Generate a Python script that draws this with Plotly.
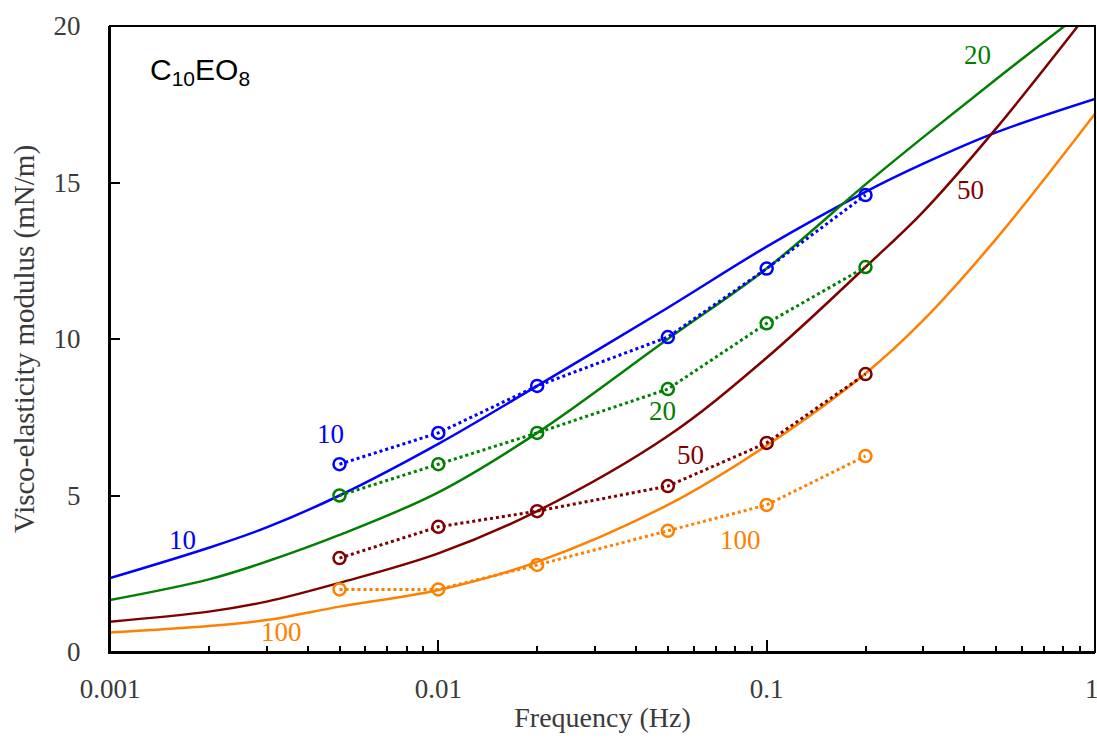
import math
import plotly.graph_objects as go

# Measured data (open circles, dotted lines)
freq_meas = [0.005, 0.01, 0.02, 0.05, 0.1, 0.2]
meas_10 = [6.0, 7.0, 8.5, 10.06, 12.25, 14.6]
meas_20 = [5.0, 6.0, 7.0, 8.4, 10.5, 12.3]
meas_50 = [3.0, 4.0, 4.5, 5.3, 6.68, 8.88]
meas_100 = [2.0, 2.0, 2.78, 3.87, 4.7, 6.26]

# Model curves (solid lines)
freq_model = [0.001, 0.002, 0.003, 0.005, 0.01, 0.02, 0.05, 0.1, 0.2, 0.3, 0.5, 1.0]
model_10 = [2.36, 3.33, 3.98, 5.0, 6.65, 8.5, 11.0, 12.95, 14.7, 15.6, 16.6, 17.67]
model_20 = [1.66, 2.32, 2.89, 3.74, 5.1, 7.0, 10.0, 12.25, 14.94, 16.45, 18.3, 20.75]
model_50 = [0.97, 1.29, 1.61, 2.21, 3.15, 4.5, 6.9, 9.4, 12.3, 14.07, 16.73, 20.7]
model_100 = [0.62, 0.83, 1.02, 1.45, 1.98, 2.88, 4.7, 6.6, 8.9, 10.6, 13.2, 17.2]

x_tick_vals = [0.001, 0.01, 0.1, 1]
x_tick_text = ["0.001", "0.01", "0.1", "1\u00a0"]

series_names = ["10", "20", "50", "100"]
colors = ["#0000FF", "#008000", "#800000", "#FF8000"]
meas_all = [meas_10, meas_20, meas_50, meas_100]
model_all = [model_10, model_20, model_50, model_100]

# curve labels: (frequency, modulus)
label_pos_meas = [(0.0047, 6.96), (0.0483, 7.7), (0.0585, 6.29), (0.083, 3.58)]
label_pos_model = [(0.00166, 3.58), (0.44, 19.07), (0.417, 14.76), (0.00334, 0.64)]

fig = go.Figure()
for name, col, ys in zip(series_names, colors, model_all):
    fig.add_trace(go.Scatter(x=freq_model, y=ys, mode="lines",
                             line=dict(color=col, width=2.5, shape="spline", smoothing=1.0),
                             showlegend=False, hoverinfo="skip"))
for name, col, ys in zip(series_names, colors, meas_all):
    fig.add_trace(go.Scatter(x=freq_meas, y=ys, mode="lines+markers",
                             line=dict(color=col, width=3, dash="dot"),
                             marker=dict(symbol="circle-open", size=12, color=col,
                                         line=dict(width=2.5, color=col)),
                             showlegend=False))

for name, col, p1, p2 in zip(series_names, colors, label_pos_meas, label_pos_model):
    for (xx, yy) in [p1, p2]:
        fig.add_annotation(x=math.log10(xx), y=yy, xref="x", yref="y", text=name, showarrow=False,
                           font=dict(family="Liberation Serif", size=27, color=col))

fig.add_annotation(x=0.0386, y=0.927, xref="paper", yref="paper", xanchor="left", yanchor="middle",
                   text="C<sub>10</sub>EO<sub>8</sub>", showarrow=False,
                   font=dict(family="Liberation Sans", size=30, color="black"))

fig.add_shape(type="rect", xref="paper", yref="paper", x0=0, y0=0, x1=1, y1=1,
              line=dict(color="black", width=2), layer="above")

fig.update_xaxes(type="log", range=[-3, 0], automargin=False,
                 tickvals=x_tick_vals, ticktext=x_tick_text,
                 ticks="inside", ticklen=12, tickwidth=2, tickcolor="black",
                 showline=True, linecolor="black", linewidth=2, showgrid=False, zeroline=False,
                 minor=dict(ticks="inside", ticklen=6, tickwidth=2, tickcolor="black",
                            dtick="D1", showgrid=False),
                 tickfont=dict(family="Liberation Serif", size=27, color="#3a3a3a"),
                 ticklabelstandoff=12, ticklabeloverflow="allow",
                 title=dict(text="Frequency (Hz)", standoff=4,
                            font=dict(family="Liberation Serif", size=28, color="#3a3a3a")))
fig.update_yaxes(range=[0, 20], tickvals=[0, 5, 10, 15, 20], automargin=False,
                 ticks="inside", ticklen=10, tickwidth=2, tickcolor="black",
                 showline=True, linecolor="black", linewidth=2, showgrid=False, zeroline=False,
                 tickfont=dict(family="Liberation Serif", size=27, color="#3a3a3a"),
                 ticklabelstandoff=22,
                 title=dict(text="Visco-elasticity modulus (mN/m)", standoff=10,
                            font=dict(family="Liberation Serif", size=29, color="#3a3a3a")))

fig.update_layout(width=1097, height=740, margin=dict(l=110, r=2, t=26, b=88),
                  plot_bgcolor="white", paper_bgcolor="white")

fig.write_html("out.html")
